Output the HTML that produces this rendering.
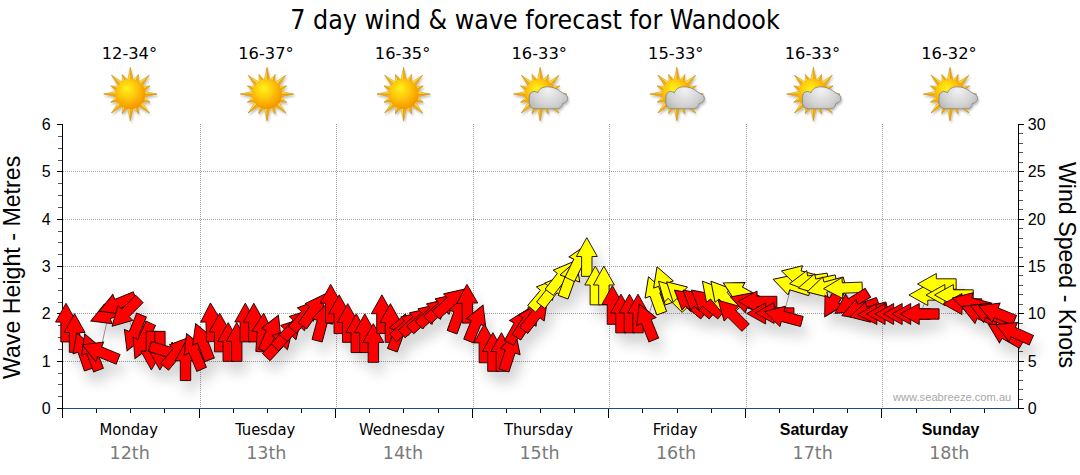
<!DOCTYPE html>
<html><head><meta charset="utf-8"><title>7 day wind &amp; wave forecast for Wandook</title>
<style>
html,body{margin:0;padding:0;background:#fff;}
body{width:1080px;height:475px;overflow:hidden;}
svg{display:block;}
.t{font-family:"DejaVu Sans Condensed","DejaVu Sans","Liberation Sans",sans-serif;}
.a{font-family:"Liberation Sans",Arial,sans-serif;}
.d{font-family:"DejaVu Sans","Liberation Sans",sans-serif;}
</style></head><body>
<svg width="1080" height="475" viewBox="0 0 1080 475">
<defs>
<radialGradient id="sunG" cx="0.42" cy="0.38" r="0.62" fx="0.38" fy="0.3">
<stop offset="0" stop-color="#fff21a"/><stop offset="0.45" stop-color="#ffcc0a"/><stop offset="1" stop-color="#f59500"/>
</radialGradient>
<linearGradient id="rayG" x1="0" y1="0" x2="1" y2="1">
<stop offset="0" stop-color="#ffd21a"/><stop offset="1" stop-color="#f29a10"/>
</linearGradient>
<linearGradient id="cloudG" x1="0" y1="0" x2="0" y2="1">
<stop offset="0" stop-color="#f2f2f2"/><stop offset="0.6" stop-color="#c8c8c8"/><stop offset="1" stop-color="#9a9a9a"/>
</linearGradient>
<filter id="shd" x="-10%" y="-20%" width="130%" height="160%">
<feGaussianBlur in="SourceAlpha" stdDeviation="6.5"/>
<feOffset dx="5" dy="11" result="b"/>
<feComponentTransfer><feFuncA type="linear" slope="0.17"/></feComponentTransfer>
<feMerge><feMergeNode/><feMergeNode in="SourceGraphic"/></feMerge>
</filter>
<filter id="ishd" x="-30%" y="-30%" width="160%" height="160%">
<feGaussianBlur in="SourceAlpha" stdDeviation="1.2"/>
<feOffset dx="1" dy="1.5" result="b"/>
<feComponentTransfer><feFuncA type="linear" slope="0.25"/></feComponentTransfer>
<feMerge><feMergeNode/><feMergeNode in="SourceGraphic"/></feMerge>
</filter>
<g id="rays">
<polygon fill="#f5ad20" points="3.00,-13.50 0.00,-26.60 0.00,-13.50"/>
<polygon fill="#ffdc30" points="0.00,-13.50 0.00,-26.60 -3.00,-13.50"/>
<polygon fill="#f5ad20" points="7.94,-11.32 8.11,-19.59 5.17,-12.47"/>
<polygon fill="#ffdc30" points="5.17,-12.47 8.11,-19.59 2.39,-13.62"/>
<polygon fill="#f5ad20" points="11.67,-7.42 18.81,-18.81 9.55,-9.55"/>
<polygon fill="#ffdc30" points="9.55,-9.55 18.81,-18.81 7.42,-11.67"/>
<polygon fill="#f5ad20" points="13.62,-2.39 19.59,-8.11 12.47,-5.17"/>
<polygon fill="#ffdc30" points="12.47,-5.17 19.59,-8.11 11.32,-7.94"/>
<polygon fill="#f5ad20" points="13.50,3.00 26.60,0.00 13.50,0.00"/>
<polygon fill="#ffdc30" points="13.50,0.00 26.60,0.00 13.50,-3.00"/>
<polygon fill="#f5ad20" points="11.32,7.94 19.59,8.11 12.47,5.17"/>
<polygon fill="#ffdc30" points="12.47,5.17 19.59,8.11 13.62,2.39"/>
<polygon fill="#f5ad20" points="7.42,11.67 18.81,18.81 9.55,9.55"/>
<polygon fill="#ffdc30" points="9.55,9.55 18.81,18.81 11.67,7.42"/>
<polygon fill="#ffdc30" points="2.39,13.62 8.11,19.59 5.17,12.47"/>
<polygon fill="#f5ad20" points="5.17,12.47 8.11,19.59 7.94,11.32"/>
<polygon fill="#ffdc30" points="-3.00,13.50 0.00,26.60 0.00,13.50"/>
<polygon fill="#f5ad20" points="0.00,13.50 0.00,26.60 3.00,13.50"/>
<polygon fill="#ffdc30" points="-7.94,11.32 -8.11,19.59 -5.17,12.47"/>
<polygon fill="#f5ad20" points="-5.17,12.47 -8.11,19.59 -2.39,13.62"/>
<polygon fill="#ffdc30" points="-11.67,7.42 -18.81,18.81 -9.55,9.55"/>
<polygon fill="#f5ad20" points="-9.55,9.55 -18.81,18.81 -7.42,11.67"/>
<polygon fill="#ffdc30" points="-13.62,2.39 -19.59,8.11 -12.47,5.17"/>
<polygon fill="#f5ad20" points="-12.47,5.17 -19.59,8.11 -11.32,7.94"/>
<polygon fill="#ffdc30" points="-13.50,-3.00 -26.60,0.00 -13.50,0.00"/>
<polygon fill="#f5ad20" points="-13.50,0.00 -26.60,0.00 -13.50,3.00"/>
<polygon fill="#ffdc30" points="-11.32,-7.94 -19.59,-8.11 -12.47,-5.17"/>
<polygon fill="#f5ad20" points="-12.47,-5.17 -19.59,-8.11 -13.62,-2.39"/>
<polygon fill="#ffdc30" points="-7.42,-11.67 -18.81,-18.81 -9.55,-9.55"/>
<polygon fill="#f5ad20" points="-9.55,-9.55 -18.81,-18.81 -11.67,-7.42"/>
<polygon fill="#f5ad20" points="-2.39,-13.62 -8.11,-19.59 -5.17,-12.47"/>
<polygon fill="#ffdc30" points="-5.17,-12.47 -8.11,-19.59 -7.94,-11.32"/>
</g>
<g id="sun"><use href="#rays" stroke="#c98a10" stroke-width="0.45" stroke-linejoin="round"/><circle r="15" fill="url(#sunG)"/></g>
<radialGradient id="cloudR" gradientUnits="userSpaceOnUse" cx="8" cy="-5" r="26" fx="8" fy="-4"><stop offset="0" stop-color="#f2f2f2"/><stop offset="0.6" stop-color="#d3d3d3"/><stop offset="1" stop-color="#b2b2b2"/></radialGradient>
<g id="cloud"><path d="M-4.8,14.7 C-8.5,14.7 -11,12 -11,8.5 L-11,3 C-11,0 -9,-2.6 -6.2,-2.6 C-4.5,-2.6 -3.2,-1.9 -2.4,-1.2 C-1.5,-5 2.5,-7.3 7.2,-7.3 C12,-7.3 16.5,-5.5 19,-3.5 C21,-2 22.5,-1.2 23.6,-0.5 C26,0.2 27.6,2.3 27.6,4.6 C27.6,7 25.5,9 22.5,9.4 C22,12.5 20,14.7 17,14.7 Z" fill="url(#cloudR)" stroke="#7d7d7d" stroke-width="0.8"/></g>
</defs>
<text class="t" x="535.0" y="29.4" font-size="26.55" text-anchor="middle" fill="#000">7 day wind &amp; wave forecast for Wandook</text>
<text class="d" x="129.4" y="59.3" font-size="16.3" text-anchor="middle" fill="#000">12-34°</text>
<use href="#sun" x="130.4" y="94.1" filter="url(#ishd)"/>
<text class="d" x="266.0" y="59.3" font-size="16.3" text-anchor="middle" fill="#000">16-37°</text>
<use href="#sun" x="267.0" y="94.1" filter="url(#ishd)"/>
<text class="d" x="402.6" y="59.3" font-size="16.3" text-anchor="middle" fill="#000">16-35°</text>
<use href="#sun" x="403.6" y="94.1" filter="url(#ishd)"/>
<text class="d" x="539.2" y="59.3" font-size="16.3" text-anchor="middle" fill="#000">16-33°</text>
<g filter="url(#ishd)"><use href="#sun" x="540.2" y="94.1"/><use href="#cloud" x="540.2" y="94.1"/></g>
<text class="d" x="675.8" y="59.3" font-size="16.3" text-anchor="middle" fill="#000">15-33°</text>
<g filter="url(#ishd)"><use href="#sun" x="676.8" y="94.1"/><use href="#cloud" x="676.8" y="94.1"/></g>
<text class="d" x="812.4" y="59.3" font-size="16.3" text-anchor="middle" fill="#000">16-33°</text>
<g filter="url(#ishd)"><use href="#sun" x="813.4" y="94.1"/><use href="#cloud" x="813.4" y="94.1"/></g>
<text class="d" x="949.0" y="59.3" font-size="16.3" text-anchor="middle" fill="#000">16-32°</text>
<g filter="url(#ishd)"><use href="#sun" x="950.0" y="94.1"/><use href="#cloud" x="950.0" y="94.1"/></g>
<g stroke="#a0a0a0" stroke-width="1" stroke-dasharray="1 1"><line x1="63" y1="361.5" x2="1018" y2="361.5"/><line x1="63" y1="313.5" x2="1018" y2="313.5"/><line x1="63" y1="266.5" x2="1018" y2="266.5"/><line x1="63" y1="219.5" x2="1018" y2="219.5"/><line x1="63" y1="171.5" x2="1018" y2="171.5"/><line x1="200.5" y1="124" x2="200.5" y2="408"/><line x1="336.5" y1="124" x2="336.5" y2="408"/><line x1="473.5" y1="124" x2="473.5" y2="408"/><line x1="609.5" y1="124" x2="609.5" y2="408"/><line x1="746.5" y1="124" x2="746.5" y2="408"/><line x1="882.5" y1="124" x2="882.5" y2="408"/></g>
<g stroke-width="1"><line x1="62.5" y1="124" x2="62.5" y2="418" stroke="#000"/><line x1="1018.5" y1="124" x2="1018.5" y2="409" stroke="#000"/><line x1="57" y1="408.5" x2="62" y2="408.5" stroke="#000"/><line x1="58" y1="396.5" x2="62" y2="396.5" stroke="#555"/><line x1="58" y1="384.5" x2="62" y2="384.5" stroke="#555"/><line x1="58" y1="373.5" x2="62" y2="373.5" stroke="#555"/><line x1="57" y1="361.5" x2="62" y2="361.5" stroke="#000"/><line x1="58" y1="349.5" x2="62" y2="349.5" stroke="#555"/><line x1="58" y1="337.5" x2="62" y2="337.5" stroke="#555"/><line x1="58" y1="325.5" x2="62" y2="325.5" stroke="#555"/><line x1="57" y1="313.5" x2="62" y2="313.5" stroke="#000"/><line x1="58" y1="302.5" x2="62" y2="302.5" stroke="#555"/><line x1="58" y1="290.5" x2="62" y2="290.5" stroke="#555"/><line x1="58" y1="278.5" x2="62" y2="278.5" stroke="#555"/><line x1="57" y1="266.5" x2="62" y2="266.5" stroke="#000"/><line x1="58" y1="254.5" x2="62" y2="254.5" stroke="#555"/><line x1="58" y1="242.5" x2="62" y2="242.5" stroke="#555"/><line x1="58" y1="231.5" x2="62" y2="231.5" stroke="#555"/><line x1="57" y1="219.5" x2="62" y2="219.5" stroke="#000"/><line x1="58" y1="207.5" x2="62" y2="207.5" stroke="#555"/><line x1="58" y1="195.5" x2="62" y2="195.5" stroke="#555"/><line x1="58" y1="183.5" x2="62" y2="183.5" stroke="#555"/><line x1="57" y1="171.5" x2="62" y2="171.5" stroke="#000"/><line x1="58" y1="160.5" x2="62" y2="160.5" stroke="#555"/><line x1="58" y1="148.5" x2="62" y2="148.5" stroke="#555"/><line x1="58" y1="136.5" x2="62" y2="136.5" stroke="#555"/><line x1="57" y1="124.5" x2="62" y2="124.5" stroke="#000"/><line x1="1019" y1="408.5" x2="1024" y2="408.5" stroke="#000"/><line x1="1019" y1="399.5" x2="1023" y2="399.5" stroke="#555"/><line x1="1019" y1="389.5" x2="1023" y2="389.5" stroke="#555"/><line x1="1019" y1="380.5" x2="1023" y2="380.5" stroke="#555"/><line x1="1019" y1="370.5" x2="1023" y2="370.5" stroke="#555"/><line x1="1019" y1="361.5" x2="1024" y2="361.5" stroke="#000"/><line x1="1019" y1="351.5" x2="1023" y2="351.5" stroke="#555"/><line x1="1019" y1="342.5" x2="1023" y2="342.5" stroke="#555"/><line x1="1019" y1="332.5" x2="1023" y2="332.5" stroke="#555"/><line x1="1019" y1="323.5" x2="1023" y2="323.5" stroke="#555"/><line x1="1019" y1="313.5" x2="1024" y2="313.5" stroke="#000"/><line x1="1019" y1="304.5" x2="1023" y2="304.5" stroke="#555"/><line x1="1019" y1="294.5" x2="1023" y2="294.5" stroke="#555"/><line x1="1019" y1="285.5" x2="1023" y2="285.5" stroke="#555"/><line x1="1019" y1="275.5" x2="1023" y2="275.5" stroke="#555"/><line x1="1019" y1="266.5" x2="1024" y2="266.5" stroke="#000"/><line x1="1019" y1="257.5" x2="1023" y2="257.5" stroke="#555"/><line x1="1019" y1="247.5" x2="1023" y2="247.5" stroke="#555"/><line x1="1019" y1="238.5" x2="1023" y2="238.5" stroke="#555"/><line x1="1019" y1="228.5" x2="1023" y2="228.5" stroke="#555"/><line x1="1019" y1="219.5" x2="1024" y2="219.5" stroke="#000"/><line x1="1019" y1="209.5" x2="1023" y2="209.5" stroke="#555"/><line x1="1019" y1="200.5" x2="1023" y2="200.5" stroke="#555"/><line x1="1019" y1="190.5" x2="1023" y2="190.5" stroke="#555"/><line x1="1019" y1="181.5" x2="1023" y2="181.5" stroke="#555"/><line x1="1019" y1="171.5" x2="1024" y2="171.5" stroke="#000"/><line x1="1019" y1="162.5" x2="1023" y2="162.5" stroke="#555"/><line x1="1019" y1="152.5" x2="1023" y2="152.5" stroke="#555"/><line x1="1019" y1="143.5" x2="1023" y2="143.5" stroke="#555"/><line x1="1019" y1="133.5" x2="1023" y2="133.5" stroke="#555"/><line x1="1019" y1="124.5" x2="1024" y2="124.5" stroke="#000"/><line x1="62.5" y1="409" x2="62.5" y2="418" stroke="#000"/><line x1="96.5" y1="409" x2="96.5" y2="413" stroke="#000"/><line x1="130.5" y1="409" x2="130.5" y2="413" stroke="#000"/><line x1="164.5" y1="409" x2="164.5" y2="413" stroke="#000"/><line x1="199.5" y1="409" x2="199.5" y2="418" stroke="#000"/><line x1="233.5" y1="409" x2="233.5" y2="413" stroke="#000"/><line x1="267.5" y1="409" x2="267.5" y2="413" stroke="#000"/><line x1="301.5" y1="409" x2="301.5" y2="413" stroke="#000"/><line x1="335.5" y1="409" x2="335.5" y2="418" stroke="#000"/><line x1="369.5" y1="409" x2="369.5" y2="413" stroke="#000"/><line x1="403.5" y1="409" x2="403.5" y2="413" stroke="#000"/><line x1="438.5" y1="409" x2="438.5" y2="413" stroke="#000"/><line x1="472.5" y1="409" x2="472.5" y2="418" stroke="#000"/><line x1="506.5" y1="409" x2="506.5" y2="413" stroke="#000"/><line x1="540.5" y1="409" x2="540.5" y2="413" stroke="#000"/><line x1="574.5" y1="409" x2="574.5" y2="413" stroke="#000"/><line x1="608.5" y1="409" x2="608.5" y2="418" stroke="#000"/><line x1="642.5" y1="409" x2="642.5" y2="413" stroke="#000"/><line x1="677.5" y1="409" x2="677.5" y2="413" stroke="#000"/><line x1="711.5" y1="409" x2="711.5" y2="413" stroke="#000"/><line x1="745.5" y1="409" x2="745.5" y2="418" stroke="#000"/><line x1="779.5" y1="409" x2="779.5" y2="413" stroke="#000"/><line x1="813.5" y1="409" x2="813.5" y2="413" stroke="#000"/><line x1="847.5" y1="409" x2="847.5" y2="413" stroke="#000"/><line x1="881.5" y1="409" x2="881.5" y2="418" stroke="#000"/><line x1="916.5" y1="409" x2="916.5" y2="413" stroke="#000"/><line x1="950.5" y1="409" x2="950.5" y2="413" stroke="#000"/><line x1="984.5" y1="409" x2="984.5" y2="413" stroke="#000"/><line x1="63" y1="408.5" x2="1018" y2="408.5" stroke="#1a5080"/></g>
<text class="a" x="50.6" y="413.8" font-size="16" text-anchor="end" fill="#000">0</text>
<text class="a" x="50.6" y="366.5" font-size="16" text-anchor="end" fill="#000">1</text>
<text class="a" x="50.6" y="319.1" font-size="16" text-anchor="end" fill="#000">2</text>
<text class="a" x="50.6" y="271.8" font-size="16" text-anchor="end" fill="#000">3</text>
<text class="a" x="50.6" y="224.5" font-size="16" text-anchor="end" fill="#000">4</text>
<text class="a" x="50.6" y="177.2" font-size="16" text-anchor="end" fill="#000">5</text>
<text class="a" x="50.6" y="129.8" font-size="16" text-anchor="end" fill="#000">6</text>
<text class="a" x="1027.8" y="413.8" font-size="16" text-anchor="start" fill="#000">0</text>
<text class="a" x="1027.8" y="366.5" font-size="16" text-anchor="start" fill="#000">5</text>
<text class="a" x="1027.8" y="319.1" font-size="16" text-anchor="start" fill="#000">10</text>
<text class="a" x="1027.8" y="271.8" font-size="16" text-anchor="start" fill="#000">15</text>
<text class="a" x="1027.8" y="224.5" font-size="16" text-anchor="start" fill="#000">20</text>
<text class="a" x="1027.8" y="177.1" font-size="16" text-anchor="start" fill="#000">25</text>
<text class="a" x="1027.8" y="129.8" font-size="16" text-anchor="start" fill="#000">30</text>
<text class="a" font-size="23.2" fill="#000" text-anchor="middle" transform="translate(20.4,267.4) rotate(-90)">Wave Height - Metres</text>
<text class="a" font-size="23.2" fill="#000" text-anchor="middle" transform="translate(1059,265) rotate(90)">Wind Speed - Knots</text>
<text class="t" x="128.7" y="434.6" font-size="16.5" text-anchor="middle" fill="#000">Monday</text>
<text class="d" x="129.7" y="458.7" font-size="17.5" text-anchor="middle" fill="#7a7a7a">12th</text>
<text class="t" x="265.3" y="434.6" font-size="16.5" text-anchor="middle" fill="#000">Tuesday</text>
<text class="d" x="266.3" y="458.7" font-size="17.5" text-anchor="middle" fill="#7a7a7a">13th</text>
<text class="t" x="401.9" y="434.6" font-size="16.5" text-anchor="middle" fill="#000">Wednesday</text>
<text class="d" x="402.9" y="458.7" font-size="17.5" text-anchor="middle" fill="#7a7a7a">14th</text>
<text class="t" x="538.5" y="434.6" font-size="16.5" text-anchor="middle" fill="#000">Thursday</text>
<text class="d" x="539.5" y="458.7" font-size="17.5" text-anchor="middle" fill="#7a7a7a">15th</text>
<text class="t" x="675.1" y="434.6" font-size="16.5" text-anchor="middle" fill="#000">Friday</text>
<text class="d" x="676.1" y="458.7" font-size="17.5" text-anchor="middle" fill="#7a7a7a">16th</text>
<text class="a" x="814.0" y="434.8" font-size="16" font-weight="bold" text-anchor="middle" fill="#000">Saturday</text>
<text class="d" x="812.7" y="458.7" font-size="17.5" text-anchor="middle" fill="#7a7a7a">17th</text>
<text class="a" x="950.6" y="434.8" font-size="16" font-weight="bold" text-anchor="middle" fill="#000">Sunday</text>
<text class="d" x="949.3" y="458.7" font-size="17.5" text-anchor="middle" fill="#7a7a7a">18th</text>
<text class="a" x="893" y="400.6" font-size="11.15" fill="#a8a8a8">www.seabreeze.com.au</text>
<g filter="url(#shd)">
<polyline fill="none" stroke="#8c8c8c" stroke-width="1" points="66.0,322.6 74.5,333.0 83.1,351.0 91.6,352.0 100.2,352.0 108.7,313.8 117.2,304.0 125.8,312.6 134.3,333.0 142.8,341.0 151.4,350.7 159.9,350.7 168.4,352.0 177.0,352.0 185.5,361.2 194.1,351.5 202.6,341.7 211.1,322.3 219.7,332.5 228.2,342.0 236.8,342.0 245.3,322.5 253.8,322.6 262.4,332.5 270.9,333.0 279.4,343.0 288.0,333.0 296.5,324.0 305.0,315.0 313.6,310.0 322.1,322.0 330.7,303.7 339.2,314.2 347.7,323.0 356.3,333.2 364.8,333.2 373.3,343.0 381.9,314.2 390.4,323.0 399.0,332.0 407.5,325.0 416.0,321.0 424.6,317.0 433.1,312.0 441.6,307.0 450.2,302.0 458.7,314.0 467.3,303.7 475.8,323.0 484.3,343.4 492.9,352.0 501.4,352.0 509.9,352.0 518.5,326.0 527.0,321.0 535.6,315.0 544.1,294.0 552.6,290.0 561.2,277.0 569.7,279.0 578.2,262.0 586.8,257.0 595.3,285.5 603.9,285.5 612.4,305.0 620.9,313.5 629.5,313.5 638.0,313.5 646.5,322.0 655.1,295.0 663.6,285.0 672.2,295.0 680.7,295.0 689.2,302.5 697.8,302.5 706.3,302.5 714.9,296.0 723.4,296.0 731.9,314.0 740.5,292.0 749.0,303.0 757.5,301.5 766.1,313.5 774.6,313.0 783.1,316.5 791.7,285.0 800.2,276.0 808.8,281.0 817.3,284.0 825.8,287.0 834.4,300.0 842.9,288.0 851.4,303.0 860.0,309.0 868.5,312.0 877.1,314.0 885.6,314.0 894.1,314.0 902.7,314.0 911.2,314.0 919.8,314.0 928.3,295.0 936.8,284.0 945.4,295.0 953.9,295.0 962.4,304.0 971.0,303.0 979.5,314.0 988.0,313.0 996.6,313.0 1005.1,334.0 1013.7,332.3"/>
<polygon points="19.35,0 0.5,-10.5 0.5,-5.2 -19.35,-5.2 -19.35,5.2 0.5,5.2 0.5,10.5" fill="#ff0000" stroke="#1a0000" stroke-width="0.9" stroke-linejoin="miter" transform="translate(66.00,322.60) rotate(-90.0)"/>
<polygon points="19.35,0 0.5,-10.5 0.5,-5.2 -19.35,-5.2 -19.35,5.2 0.5,5.2 0.5,10.5" fill="#ff0000" stroke="#1a0000" stroke-width="0.9" stroke-linejoin="miter" transform="translate(74.54,333.00) rotate(-90.0)"/>
<polygon points="19.35,0 0.5,-10.5 0.5,-5.2 -19.35,-5.2 -19.35,5.2 0.5,5.2 0.5,10.5" fill="#ff0000" stroke="#1a0000" stroke-width="0.9" stroke-linejoin="miter" transform="translate(83.08,351.00) rotate(-109.0)"/>
<polygon points="19.35,0 0.5,-10.5 0.5,-5.2 -19.35,-5.2 -19.35,5.2 0.5,5.2 0.5,10.5" fill="#ff0000" stroke="#1a0000" stroke-width="0.9" stroke-linejoin="miter" transform="translate(91.61,352.00) rotate(-111.0)"/>
<polygon points="19.35,0 0.5,-10.5 0.5,-5.2 -19.35,-5.2 -19.35,5.2 0.5,5.2 0.5,10.5" fill="#ff0000" stroke="#1a0000" stroke-width="0.9" stroke-linejoin="miter" transform="translate(100.15,352.00) rotate(-158.0)"/>
<polygon points="19.35,0 0.5,-10.5 0.5,-5.2 -19.35,-5.2 -19.35,5.2 0.5,5.2 0.5,10.5" fill="#ff0000" stroke="#1a0000" stroke-width="0.9" stroke-linejoin="miter" transform="translate(108.69,313.80) rotate(158.0)"/>
<polygon points="19.35,0 0.5,-10.5 0.5,-5.2 -19.35,-5.2 -19.35,5.2 0.5,5.2 0.5,10.5" fill="#ff0000" stroke="#1a0000" stroke-width="0.9" stroke-linejoin="miter" transform="translate(117.22,304.00) rotate(158.0)"/>
<polygon points="19.35,0 0.5,-10.5 0.5,-5.2 -19.35,-5.2 -19.35,5.2 0.5,5.2 0.5,10.5" fill="#ff0000" stroke="#1a0000" stroke-width="0.9" stroke-linejoin="miter" transform="translate(125.76,312.60) rotate(135.0)"/>
<polygon points="19.35,0 0.5,-10.5 0.5,-5.2 -19.35,-5.2 -19.35,5.2 0.5,5.2 0.5,10.5" fill="#ff0000" stroke="#1a0000" stroke-width="0.9" stroke-linejoin="miter" transform="translate(134.30,333.00) rotate(112.0)"/>
<polygon points="19.35,0 0.5,-10.5 0.5,-5.2 -19.35,-5.2 -19.35,5.2 0.5,5.2 0.5,10.5" fill="#ff0000" stroke="#1a0000" stroke-width="0.9" stroke-linejoin="miter" transform="translate(142.84,341.00) rotate(114.0)"/>
<polygon points="19.35,0 0.5,-10.5 0.5,-5.2 -19.35,-5.2 -19.35,5.2 0.5,5.2 0.5,10.5" fill="#ff0000" stroke="#1a0000" stroke-width="0.9" stroke-linejoin="miter" transform="translate(151.38,350.70) rotate(90.0)"/>
<polygon points="19.35,0 0.5,-10.5 0.5,-5.2 -19.35,-5.2 -19.35,5.2 0.5,5.2 0.5,10.5" fill="#ff0000" stroke="#1a0000" stroke-width="0.9" stroke-linejoin="miter" transform="translate(159.91,350.70) rotate(90.0)"/>
<polygon points="19.35,0 0.5,-10.5 0.5,-5.2 -19.35,-5.2 -19.35,5.2 0.5,5.2 0.5,10.5" fill="#ff0000" stroke="#1a0000" stroke-width="0.9" stroke-linejoin="miter" transform="translate(168.45,352.00) rotate(17.0)"/>
<polygon points="19.35,0 0.5,-10.5 0.5,-5.2 -19.35,-5.2 -19.35,5.2 0.5,5.2 0.5,10.5" fill="#ff0000" stroke="#1a0000" stroke-width="0.9" stroke-linejoin="miter" transform="translate(176.99,352.00) rotate(-50.0)"/>
<polygon points="19.35,0 0.5,-10.5 0.5,-5.2 -19.35,-5.2 -19.35,5.2 0.5,5.2 0.5,10.5" fill="#ff0000" stroke="#1a0000" stroke-width="0.9" stroke-linejoin="miter" transform="translate(185.52,361.20) rotate(-90.0)"/>
<polygon points="19.35,0 0.5,-10.5 0.5,-5.2 -19.35,-5.2 -19.35,5.2 0.5,5.2 0.5,10.5" fill="#ff0000" stroke="#1a0000" stroke-width="0.9" stroke-linejoin="miter" transform="translate(194.06,351.50) rotate(-113.0)"/>
<polygon points="19.35,0 0.5,-10.5 0.5,-5.2 -19.35,-5.2 -19.35,5.2 0.5,5.2 0.5,10.5" fill="#ff0000" stroke="#1a0000" stroke-width="0.9" stroke-linejoin="miter" transform="translate(202.60,341.70) rotate(-111.0)"/>
<polygon points="19.35,0 0.5,-10.5 0.5,-5.2 -19.35,-5.2 -19.35,5.2 0.5,5.2 0.5,10.5" fill="#ff0000" stroke="#1a0000" stroke-width="0.9" stroke-linejoin="miter" transform="translate(211.14,322.30) rotate(-92.0)"/>
<polygon points="19.35,0 0.5,-10.5 0.5,-5.2 -19.35,-5.2 -19.35,5.2 0.5,5.2 0.5,10.5" fill="#ff0000" stroke="#1a0000" stroke-width="0.9" stroke-linejoin="miter" transform="translate(219.67,332.50) rotate(-90.0)"/>
<polygon points="19.35,0 0.5,-10.5 0.5,-5.2 -19.35,-5.2 -19.35,5.2 0.5,5.2 0.5,10.5" fill="#ff0000" stroke="#1a0000" stroke-width="0.9" stroke-linejoin="miter" transform="translate(228.21,342.00) rotate(-90.0)"/>
<polygon points="19.35,0 0.5,-10.5 0.5,-5.2 -19.35,-5.2 -19.35,5.2 0.5,5.2 0.5,10.5" fill="#ff0000" stroke="#1a0000" stroke-width="0.9" stroke-linejoin="miter" transform="translate(236.75,342.00) rotate(-90.0)"/>
<polygon points="19.35,0 0.5,-10.5 0.5,-5.2 -19.35,-5.2 -19.35,5.2 0.5,5.2 0.5,10.5" fill="#ff0000" stroke="#1a0000" stroke-width="0.9" stroke-linejoin="miter" transform="translate(245.29,322.50) rotate(-90.0)"/>
<polygon points="19.35,0 0.5,-10.5 0.5,-5.2 -19.35,-5.2 -19.35,5.2 0.5,5.2 0.5,10.5" fill="#ff0000" stroke="#1a0000" stroke-width="0.9" stroke-linejoin="miter" transform="translate(253.82,322.60) rotate(-90.0)"/>
<polygon points="19.35,0 0.5,-10.5 0.5,-5.2 -19.35,-5.2 -19.35,5.2 0.5,5.2 0.5,10.5" fill="#ff0000" stroke="#1a0000" stroke-width="0.9" stroke-linejoin="miter" transform="translate(262.36,332.50) rotate(-86.0)"/>
<polygon points="19.35,0 0.5,-10.5 0.5,-5.2 -19.35,-5.2 -19.35,5.2 0.5,5.2 0.5,10.5" fill="#ff0000" stroke="#1a0000" stroke-width="0.9" stroke-linejoin="miter" transform="translate(270.90,333.00) rotate(-67.0)"/>
<polygon points="19.35,0 0.5,-10.5 0.5,-5.2 -19.35,-5.2 -19.35,5.2 0.5,5.2 0.5,10.5" fill="#ff0000" stroke="#1a0000" stroke-width="0.9" stroke-linejoin="miter" transform="translate(279.44,343.00) rotate(-47.0)"/>
<polygon points="19.35,0 0.5,-10.5 0.5,-5.2 -19.35,-5.2 -19.35,5.2 0.5,5.2 0.5,10.5" fill="#ff0000" stroke="#1a0000" stroke-width="0.9" stroke-linejoin="miter" transform="translate(287.98,333.00) rotate(-47.0)"/>
<polygon points="19.35,0 0.5,-10.5 0.5,-5.2 -19.35,-5.2 -19.35,5.2 0.5,5.2 0.5,10.5" fill="#ff0000" stroke="#1a0000" stroke-width="0.9" stroke-linejoin="miter" transform="translate(296.51,324.00) rotate(-47.0)"/>
<polygon points="19.35,0 0.5,-10.5 0.5,-5.2 -19.35,-5.2 -19.35,5.2 0.5,5.2 0.5,10.5" fill="#ff0000" stroke="#1a0000" stroke-width="0.9" stroke-linejoin="miter" transform="translate(305.05,315.00) rotate(-50.0)"/>
<polygon points="19.35,0 0.5,-10.5 0.5,-5.2 -19.35,-5.2 -19.35,5.2 0.5,5.2 0.5,10.5" fill="#ff0000" stroke="#1a0000" stroke-width="0.9" stroke-linejoin="miter" transform="translate(313.59,310.00) rotate(-55.0)"/>
<polygon points="19.35,0 0.5,-10.5 0.5,-5.2 -19.35,-5.2 -19.35,5.2 0.5,5.2 0.5,10.5" fill="#ff0000" stroke="#1a0000" stroke-width="0.9" stroke-linejoin="miter" transform="translate(322.12,322.00) rotate(-75.0)"/>
<polygon points="19.35,0 0.5,-10.5 0.5,-5.2 -19.35,-5.2 -19.35,5.2 0.5,5.2 0.5,10.5" fill="#ff0000" stroke="#1a0000" stroke-width="0.9" stroke-linejoin="miter" transform="translate(330.66,303.70) rotate(-90.0)"/>
<polygon points="19.35,0 0.5,-10.5 0.5,-5.2 -19.35,-5.2 -19.35,5.2 0.5,5.2 0.5,10.5" fill="#ff0000" stroke="#1a0000" stroke-width="0.9" stroke-linejoin="miter" transform="translate(339.20,314.20) rotate(-90.0)"/>
<polygon points="19.35,0 0.5,-10.5 0.5,-5.2 -19.35,-5.2 -19.35,5.2 0.5,5.2 0.5,10.5" fill="#ff0000" stroke="#1a0000" stroke-width="0.9" stroke-linejoin="miter" transform="translate(347.74,323.00) rotate(-90.0)"/>
<polygon points="19.35,0 0.5,-10.5 0.5,-5.2 -19.35,-5.2 -19.35,5.2 0.5,5.2 0.5,10.5" fill="#ff0000" stroke="#1a0000" stroke-width="0.9" stroke-linejoin="miter" transform="translate(356.27,333.20) rotate(-90.0)"/>
<polygon points="19.35,0 0.5,-10.5 0.5,-5.2 -19.35,-5.2 -19.35,5.2 0.5,5.2 0.5,10.5" fill="#ff0000" stroke="#1a0000" stroke-width="0.9" stroke-linejoin="miter" transform="translate(364.81,333.20) rotate(-90.0)"/>
<polygon points="19.35,0 0.5,-10.5 0.5,-5.2 -19.35,-5.2 -19.35,5.2 0.5,5.2 0.5,10.5" fill="#ff0000" stroke="#1a0000" stroke-width="0.9" stroke-linejoin="miter" transform="translate(373.35,343.00) rotate(-90.0)"/>
<polygon points="19.35,0 0.5,-10.5 0.5,-5.2 -19.35,-5.2 -19.35,5.2 0.5,5.2 0.5,10.5" fill="#ff0000" stroke="#1a0000" stroke-width="0.9" stroke-linejoin="miter" transform="translate(381.89,314.20) rotate(-90.0)"/>
<polygon points="19.35,0 0.5,-10.5 0.5,-5.2 -19.35,-5.2 -19.35,5.2 0.5,5.2 0.5,10.5" fill="#ff0000" stroke="#1a0000" stroke-width="0.9" stroke-linejoin="miter" transform="translate(390.43,323.00) rotate(-90.0)"/>
<polygon points="19.35,0 0.5,-10.5 0.5,-5.2 -19.35,-5.2 -19.35,5.2 0.5,5.2 0.5,10.5" fill="#ff0000" stroke="#1a0000" stroke-width="0.9" stroke-linejoin="miter" transform="translate(398.96,332.00) rotate(-70.0)"/>
<polygon points="19.35,0 0.5,-10.5 0.5,-5.2 -19.35,-5.2 -19.35,5.2 0.5,5.2 0.5,10.5" fill="#ff0000" stroke="#1a0000" stroke-width="0.9" stroke-linejoin="miter" transform="translate(407.50,325.00) rotate(-42.0)"/>
<polygon points="19.35,0 0.5,-10.5 0.5,-5.2 -19.35,-5.2 -19.35,5.2 0.5,5.2 0.5,10.5" fill="#ff0000" stroke="#1a0000" stroke-width="0.9" stroke-linejoin="miter" transform="translate(416.04,321.00) rotate(-42.0)"/>
<polygon points="19.35,0 0.5,-10.5 0.5,-5.2 -19.35,-5.2 -19.35,5.2 0.5,5.2 0.5,10.5" fill="#ff0000" stroke="#1a0000" stroke-width="0.9" stroke-linejoin="miter" transform="translate(424.57,317.00) rotate(-42.0)"/>
<polygon points="19.35,0 0.5,-10.5 0.5,-5.2 -19.35,-5.2 -19.35,5.2 0.5,5.2 0.5,10.5" fill="#ff0000" stroke="#1a0000" stroke-width="0.9" stroke-linejoin="miter" transform="translate(433.11,312.00) rotate(-42.0)"/>
<polygon points="19.35,0 0.5,-10.5 0.5,-5.2 -19.35,-5.2 -19.35,5.2 0.5,5.2 0.5,10.5" fill="#ff0000" stroke="#1a0000" stroke-width="0.9" stroke-linejoin="miter" transform="translate(441.65,307.00) rotate(-42.0)"/>
<polygon points="19.35,0 0.5,-10.5 0.5,-5.2 -19.35,-5.2 -19.35,5.2 0.5,5.2 0.5,10.5" fill="#ff0000" stroke="#1a0000" stroke-width="0.9" stroke-linejoin="miter" transform="translate(450.19,302.00) rotate(-42.0)"/>
<polygon points="19.35,0 0.5,-10.5 0.5,-5.2 -19.35,-5.2 -19.35,5.2 0.5,5.2 0.5,10.5" fill="#ff0000" stroke="#1a0000" stroke-width="0.9" stroke-linejoin="miter" transform="translate(458.72,314.00) rotate(-70.0)"/>
<polygon points="19.35,0 0.5,-10.5 0.5,-5.2 -19.35,-5.2 -19.35,5.2 0.5,5.2 0.5,10.5" fill="#ff0000" stroke="#1a0000" stroke-width="0.9" stroke-linejoin="miter" transform="translate(467.26,303.70) rotate(-91.0)"/>
<polygon points="19.35,0 0.5,-10.5 0.5,-5.2 -19.35,-5.2 -19.35,5.2 0.5,5.2 0.5,10.5" fill="#ff0000" stroke="#1a0000" stroke-width="0.9" stroke-linejoin="miter" transform="translate(475.80,323.00) rotate(-68.0)"/>
<polygon points="19.35,0 0.5,-10.5 0.5,-5.2 -19.35,-5.2 -19.35,5.2 0.5,5.2 0.5,10.5" fill="#ff0000" stroke="#1a0000" stroke-width="0.9" stroke-linejoin="miter" transform="translate(484.34,343.40) rotate(-90.0)"/>
<polygon points="19.35,0 0.5,-10.5 0.5,-5.2 -19.35,-5.2 -19.35,5.2 0.5,5.2 0.5,10.5" fill="#ff0000" stroke="#1a0000" stroke-width="0.9" stroke-linejoin="miter" transform="translate(492.88,352.00) rotate(-90.0)"/>
<polygon points="19.35,0 0.5,-10.5 0.5,-5.2 -19.35,-5.2 -19.35,5.2 0.5,5.2 0.5,10.5" fill="#ff0000" stroke="#1a0000" stroke-width="0.9" stroke-linejoin="miter" transform="translate(501.41,352.00) rotate(-90.0)"/>
<polygon points="19.35,0 0.5,-10.5 0.5,-5.2 -19.35,-5.2 -19.35,5.2 0.5,5.2 0.5,10.5" fill="#ff0000" stroke="#1a0000" stroke-width="0.9" stroke-linejoin="miter" transform="translate(509.95,352.00) rotate(-72.0)"/>
<polygon points="19.35,0 0.5,-10.5 0.5,-5.2 -19.35,-5.2 -19.35,5.2 0.5,5.2 0.5,10.5" fill="#ff0000" stroke="#1a0000" stroke-width="0.9" stroke-linejoin="miter" transform="translate(518.49,326.00) rotate(-61.0)"/>
<polygon points="19.35,0 0.5,-10.5 0.5,-5.2 -19.35,-5.2 -19.35,5.2 0.5,5.2 0.5,10.5" fill="#ff0000" stroke="#1a0000" stroke-width="0.9" stroke-linejoin="miter" transform="translate(527.02,321.00) rotate(-57.0)"/>
<polygon points="19.35,0 0.5,-10.5 0.5,-5.2 -19.35,-5.2 -19.35,5.2 0.5,5.2 0.5,10.5" fill="#ff0000" stroke="#1a0000" stroke-width="0.9" stroke-linejoin="miter" transform="translate(535.56,315.00) rotate(-52.0)"/>
<polygon points="19.35,0 0.5,-10.5 0.5,-5.2 -19.35,-5.2 -19.35,5.2 0.5,5.2 0.5,10.5" fill="#ffff00" stroke="#1a0000" stroke-width="0.9" stroke-linejoin="miter" transform="translate(544.10,294.00) rotate(-50.0)"/>
<polygon points="19.35,0 0.5,-10.5 0.5,-5.2 -19.35,-5.2 -19.35,5.2 0.5,5.2 0.5,10.5" fill="#ffff00" stroke="#1a0000" stroke-width="0.9" stroke-linejoin="miter" transform="translate(552.64,290.00) rotate(-52.0)"/>
<polygon points="19.35,0 0.5,-10.5 0.5,-5.2 -19.35,-5.2 -19.35,5.2 0.5,5.2 0.5,10.5" fill="#ffff00" stroke="#1a0000" stroke-width="0.9" stroke-linejoin="miter" transform="translate(561.17,277.00) rotate(-52.0)"/>
<polygon points="19.35,0 0.5,-10.5 0.5,-5.2 -19.35,-5.2 -19.35,5.2 0.5,5.2 0.5,10.5" fill="#ffff00" stroke="#1a0000" stroke-width="0.9" stroke-linejoin="miter" transform="translate(569.71,279.00) rotate(-70.0)"/>
<polygon points="19.35,0 0.5,-10.5 0.5,-5.2 -19.35,-5.2 -19.35,5.2 0.5,5.2 0.5,10.5" fill="#ffff00" stroke="#1a0000" stroke-width="0.9" stroke-linejoin="miter" transform="translate(578.25,262.00) rotate(-64.0)"/>
<polygon points="19.35,0 0.5,-10.5 0.5,-5.2 -19.35,-5.2 -19.35,5.2 0.5,5.2 0.5,10.5" fill="#ffff00" stroke="#1a0000" stroke-width="0.9" stroke-linejoin="miter" transform="translate(586.79,257.00) rotate(-90.0)"/>
<polygon points="19.35,0 0.5,-10.5 0.5,-5.2 -19.35,-5.2 -19.35,5.2 0.5,5.2 0.5,10.5" fill="#ffff00" stroke="#1a0000" stroke-width="0.9" stroke-linejoin="miter" transform="translate(595.32,285.50) rotate(-90.0)"/>
<polygon points="19.35,0 0.5,-10.5 0.5,-5.2 -19.35,-5.2 -19.35,5.2 0.5,5.2 0.5,10.5" fill="#ffff00" stroke="#1a0000" stroke-width="0.9" stroke-linejoin="miter" transform="translate(603.86,285.50) rotate(-90.0)"/>
<polygon points="19.35,0 0.5,-10.5 0.5,-5.2 -19.35,-5.2 -19.35,5.2 0.5,5.2 0.5,10.5" fill="#ff0000" stroke="#1a0000" stroke-width="0.9" stroke-linejoin="miter" transform="translate(612.40,305.00) rotate(-90.0)"/>
<polygon points="19.35,0 0.5,-10.5 0.5,-5.2 -19.35,-5.2 -19.35,5.2 0.5,5.2 0.5,10.5" fill="#ff0000" stroke="#1a0000" stroke-width="0.9" stroke-linejoin="miter" transform="translate(620.94,313.50) rotate(-90.0)"/>
<polygon points="19.35,0 0.5,-10.5 0.5,-5.2 -19.35,-5.2 -19.35,5.2 0.5,5.2 0.5,10.5" fill="#ff0000" stroke="#1a0000" stroke-width="0.9" stroke-linejoin="miter" transform="translate(629.48,313.50) rotate(-90.0)"/>
<polygon points="19.35,0 0.5,-10.5 0.5,-5.2 -19.35,-5.2 -19.35,5.2 0.5,5.2 0.5,10.5" fill="#ff0000" stroke="#1a0000" stroke-width="0.9" stroke-linejoin="miter" transform="translate(638.01,313.50) rotate(-90.0)"/>
<polygon points="19.35,0 0.5,-10.5 0.5,-5.2 -19.35,-5.2 -19.35,5.2 0.5,5.2 0.5,10.5" fill="#ff0000" stroke="#1a0000" stroke-width="0.9" stroke-linejoin="miter" transform="translate(646.55,322.00) rotate(-112.0)"/>
<polygon points="19.35,0 0.5,-10.5 0.5,-5.2 -19.35,-5.2 -19.35,5.2 0.5,5.2 0.5,10.5" fill="#ffff00" stroke="#1a0000" stroke-width="0.9" stroke-linejoin="miter" transform="translate(655.09,295.00) rotate(-110.0)"/>
<polygon points="19.35,0 0.5,-10.5 0.5,-5.2 -19.35,-5.2 -19.35,5.2 0.5,5.2 0.5,10.5" fill="#ffff00" stroke="#1a0000" stroke-width="0.9" stroke-linejoin="miter" transform="translate(663.62,285.00) rotate(-110.0)"/>
<polygon points="19.35,0 0.5,-10.5 0.5,-5.2 -19.35,-5.2 -19.35,5.2 0.5,5.2 0.5,10.5" fill="#ffff00" stroke="#1a0000" stroke-width="0.9" stroke-linejoin="miter" transform="translate(672.16,295.00) rotate(-135.0)"/>
<polygon points="19.35,0 0.5,-10.5 0.5,-5.2 -19.35,-5.2 -19.35,5.2 0.5,5.2 0.5,10.5" fill="#ffff00" stroke="#1a0000" stroke-width="0.9" stroke-linejoin="miter" transform="translate(680.70,295.00) rotate(-137.0)"/>
<polygon points="19.35,0 0.5,-10.5 0.5,-5.2 -19.35,-5.2 -19.35,5.2 0.5,5.2 0.5,10.5" fill="#ff0000" stroke="#1a0000" stroke-width="0.9" stroke-linejoin="miter" transform="translate(689.24,302.50) rotate(-140.0)"/>
<polygon points="19.35,0 0.5,-10.5 0.5,-5.2 -19.35,-5.2 -19.35,5.2 0.5,5.2 0.5,10.5" fill="#ff0000" stroke="#1a0000" stroke-width="0.9" stroke-linejoin="miter" transform="translate(697.77,302.50) rotate(-140.0)"/>
<polygon points="19.35,0 0.5,-10.5 0.5,-5.2 -19.35,-5.2 -19.35,5.2 0.5,5.2 0.5,10.5" fill="#ff0000" stroke="#1a0000" stroke-width="0.9" stroke-linejoin="miter" transform="translate(706.31,302.50) rotate(-140.0)"/>
<polygon points="19.35,0 0.5,-10.5 0.5,-5.2 -19.35,-5.2 -19.35,5.2 0.5,5.2 0.5,10.5" fill="#ffff00" stroke="#1a0000" stroke-width="0.9" stroke-linejoin="miter" transform="translate(714.85,296.00) rotate(-130.0)"/>
<polygon points="19.35,0 0.5,-10.5 0.5,-5.2 -19.35,-5.2 -19.35,5.2 0.5,5.2 0.5,10.5" fill="#ffff00" stroke="#1a0000" stroke-width="0.9" stroke-linejoin="miter" transform="translate(723.39,296.00) rotate(-130.0)"/>
<polygon points="19.35,0 0.5,-10.5 0.5,-5.2 -19.35,-5.2 -19.35,5.2 0.5,5.2 0.5,10.5" fill="#ff0000" stroke="#1a0000" stroke-width="0.9" stroke-linejoin="miter" transform="translate(731.92,314.00) rotate(-135.0)"/>
<polygon points="19.35,0 0.5,-10.5 0.5,-5.2 -19.35,-5.2 -19.35,5.2 0.5,5.2 0.5,10.5" fill="#ffff00" stroke="#1a0000" stroke-width="0.9" stroke-linejoin="miter" transform="translate(740.46,292.00) rotate(-152.0)"/>
<polygon points="19.35,0 0.5,-10.5 0.5,-5.2 -19.35,-5.2 -19.35,5.2 0.5,5.2 0.5,10.5" fill="#ff0000" stroke="#1a0000" stroke-width="0.9" stroke-linejoin="miter" transform="translate(749.00,303.00) rotate(-162.0)"/>
<polygon points="19.35,0 0.5,-10.5 0.5,-5.2 -19.35,-5.2 -19.35,5.2 0.5,5.2 0.5,10.5" fill="#ff0000" stroke="#1a0000" stroke-width="0.9" stroke-linejoin="miter" transform="translate(757.54,301.50) rotate(180.0)"/>
<polygon points="19.35,0 0.5,-10.5 0.5,-5.2 -19.35,-5.2 -19.35,5.2 0.5,5.2 0.5,10.5" fill="#ff0000" stroke="#1a0000" stroke-width="0.9" stroke-linejoin="miter" transform="translate(766.07,313.50) rotate(180.0)"/>
<polygon points="19.35,0 0.5,-10.5 0.5,-5.2 -19.35,-5.2 -19.35,5.2 0.5,5.2 0.5,10.5" fill="#ff0000" stroke="#1a0000" stroke-width="0.9" stroke-linejoin="miter" transform="translate(774.61,313.00) rotate(180.0)"/>
<polygon points="19.35,0 0.5,-10.5 0.5,-5.2 -19.35,-5.2 -19.35,5.2 0.5,5.2 0.5,10.5" fill="#ff0000" stroke="#1a0000" stroke-width="0.9" stroke-linejoin="miter" transform="translate(783.15,316.50) rotate(-165.0)"/>
<polygon points="19.35,0 0.5,-10.5 0.5,-5.2 -19.35,-5.2 -19.35,5.2 0.5,5.2 0.5,10.5" fill="#ffff00" stroke="#1a0000" stroke-width="0.9" stroke-linejoin="miter" transform="translate(791.69,285.00) rotate(-163.0)"/>
<polygon points="19.35,0 0.5,-10.5 0.5,-5.2 -19.35,-5.2 -19.35,5.2 0.5,5.2 0.5,10.5" fill="#ffff00" stroke="#1a0000" stroke-width="0.9" stroke-linejoin="miter" transform="translate(800.23,276.00) rotate(-165.0)"/>
<polygon points="19.35,0 0.5,-10.5 0.5,-5.2 -19.35,-5.2 -19.35,5.2 0.5,5.2 0.5,10.5" fill="#ffff00" stroke="#1a0000" stroke-width="0.9" stroke-linejoin="miter" transform="translate(808.76,281.00) rotate(172.0)"/>
<polygon points="19.35,0 0.5,-10.5 0.5,-5.2 -19.35,-5.2 -19.35,5.2 0.5,5.2 0.5,10.5" fill="#ffff00" stroke="#1a0000" stroke-width="0.9" stroke-linejoin="miter" transform="translate(817.30,284.00) rotate(168.0)"/>
<polygon points="19.35,0 0.5,-10.5 0.5,-5.2 -19.35,-5.2 -19.35,5.2 0.5,5.2 0.5,10.5" fill="#ffff00" stroke="#1a0000" stroke-width="0.9" stroke-linejoin="miter" transform="translate(825.84,287.00) rotate(165.0)"/>
<polygon points="19.35,0 0.5,-10.5 0.5,-5.2 -19.35,-5.2 -19.35,5.2 0.5,5.2 0.5,10.5" fill="#ff0000" stroke="#1a0000" stroke-width="0.9" stroke-linejoin="miter" transform="translate(834.38,300.00) rotate(120.0)"/>
<polygon points="19.35,0 0.5,-10.5 0.5,-5.2 -19.35,-5.2 -19.35,5.2 0.5,5.2 0.5,10.5" fill="#ffff00" stroke="#1a0000" stroke-width="0.9" stroke-linejoin="miter" transform="translate(842.91,288.00) rotate(178.0)"/>
<polygon points="19.35,0 0.5,-10.5 0.5,-5.2 -19.35,-5.2 -19.35,5.2 0.5,5.2 0.5,10.5" fill="#ff0000" stroke="#1a0000" stroke-width="0.9" stroke-linejoin="miter" transform="translate(851.45,303.00) rotate(148.0)"/>
<polygon points="19.35,0 0.5,-10.5 0.5,-5.2 -19.35,-5.2 -19.35,5.2 0.5,5.2 0.5,10.5" fill="#ff0000" stroke="#1a0000" stroke-width="0.9" stroke-linejoin="miter" transform="translate(859.99,309.00) rotate(160.0)"/>
<polygon points="19.35,0 0.5,-10.5 0.5,-5.2 -19.35,-5.2 -19.35,5.2 0.5,5.2 0.5,10.5" fill="#ff0000" stroke="#1a0000" stroke-width="0.9" stroke-linejoin="miter" transform="translate(868.52,312.00) rotate(165.0)"/>
<polygon points="19.35,0 0.5,-10.5 0.5,-5.2 -19.35,-5.2 -19.35,5.2 0.5,5.2 0.5,10.5" fill="#ff0000" stroke="#1a0000" stroke-width="0.9" stroke-linejoin="miter" transform="translate(877.06,314.00) rotate(178.0)"/>
<polygon points="19.35,0 0.5,-10.5 0.5,-5.2 -19.35,-5.2 -19.35,5.2 0.5,5.2 0.5,10.5" fill="#ff0000" stroke="#1a0000" stroke-width="0.9" stroke-linejoin="miter" transform="translate(885.60,314.00) rotate(180.0)"/>
<polygon points="19.35,0 0.5,-10.5 0.5,-5.2 -19.35,-5.2 -19.35,5.2 0.5,5.2 0.5,10.5" fill="#ff0000" stroke="#1a0000" stroke-width="0.9" stroke-linejoin="miter" transform="translate(894.14,314.00) rotate(180.0)"/>
<polygon points="19.35,0 0.5,-10.5 0.5,-5.2 -19.35,-5.2 -19.35,5.2 0.5,5.2 0.5,10.5" fill="#ff0000" stroke="#1a0000" stroke-width="0.9" stroke-linejoin="miter" transform="translate(902.67,314.00) rotate(180.0)"/>
<polygon points="19.35,0 0.5,-10.5 0.5,-5.2 -19.35,-5.2 -19.35,5.2 0.5,5.2 0.5,10.5" fill="#ff0000" stroke="#1a0000" stroke-width="0.9" stroke-linejoin="miter" transform="translate(911.21,314.00) rotate(180.0)"/>
<polygon points="19.35,0 0.5,-10.5 0.5,-5.2 -19.35,-5.2 -19.35,5.2 0.5,5.2 0.5,10.5" fill="#ff0000" stroke="#1a0000" stroke-width="0.9" stroke-linejoin="miter" transform="translate(919.75,314.00) rotate(180.0)"/>
<polygon points="19.35,0 0.5,-10.5 0.5,-5.2 -19.35,-5.2 -19.35,5.2 0.5,5.2 0.5,10.5" fill="#ffff00" stroke="#1a0000" stroke-width="0.9" stroke-linejoin="miter" transform="translate(928.29,295.00) rotate(180.0)"/>
<polygon points="19.35,0 0.5,-10.5 0.5,-5.2 -19.35,-5.2 -19.35,5.2 0.5,5.2 0.5,10.5" fill="#ffff00" stroke="#1a0000" stroke-width="0.9" stroke-linejoin="miter" transform="translate(936.82,284.00) rotate(180.0)"/>
<polygon points="19.35,0 0.5,-10.5 0.5,-5.2 -19.35,-5.2 -19.35,5.2 0.5,5.2 0.5,10.5" fill="#ffff00" stroke="#1a0000" stroke-width="0.9" stroke-linejoin="miter" transform="translate(945.36,295.00) rotate(180.0)"/>
<polygon points="19.35,0 0.5,-10.5 0.5,-5.2 -19.35,-5.2 -19.35,5.2 0.5,5.2 0.5,10.5" fill="#ffff00" stroke="#1a0000" stroke-width="0.9" stroke-linejoin="miter" transform="translate(953.90,295.00) rotate(180.0)"/>
<polygon points="19.35,0 0.5,-10.5 0.5,-5.2 -19.35,-5.2 -19.35,5.2 0.5,5.2 0.5,10.5" fill="#ff0000" stroke="#1a0000" stroke-width="0.9" stroke-linejoin="miter" transform="translate(962.44,304.00) rotate(180.0)"/>
<polygon points="19.35,0 0.5,-10.5 0.5,-5.2 -19.35,-5.2 -19.35,5.2 0.5,5.2 0.5,10.5" fill="#ff0000" stroke="#1a0000" stroke-width="0.9" stroke-linejoin="miter" transform="translate(970.97,303.00) rotate(-165.0)"/>
<polygon points="19.35,0 0.5,-10.5 0.5,-5.2 -19.35,-5.2 -19.35,5.2 0.5,5.2 0.5,10.5" fill="#ff0000" stroke="#1a0000" stroke-width="0.9" stroke-linejoin="miter" transform="translate(979.51,314.00) rotate(-157.0)"/>
<polygon points="19.35,0 0.5,-10.5 0.5,-5.2 -19.35,-5.2 -19.35,5.2 0.5,5.2 0.5,10.5" fill="#ff0000" stroke="#1a0000" stroke-width="0.9" stroke-linejoin="miter" transform="translate(988.05,313.00) rotate(-157.0)"/>
<polygon points="19.35,0 0.5,-10.5 0.5,-5.2 -19.35,-5.2 -19.35,5.2 0.5,5.2 0.5,10.5" fill="#ff0000" stroke="#1a0000" stroke-width="0.9" stroke-linejoin="miter" transform="translate(996.59,313.00) rotate(-158.0)"/>
<polygon points="19.35,0 0.5,-10.5 0.5,-5.2 -19.35,-5.2 -19.35,5.2 0.5,5.2 0.5,10.5" fill="#ff0000" stroke="#1a0000" stroke-width="0.9" stroke-linejoin="miter" transform="translate(1005.12,334.00) rotate(-150.0)"/>
<polygon points="19.35,0 0.5,-10.5 0.5,-5.2 -19.35,-5.2 -19.35,5.2 0.5,5.2 0.5,10.5" fill="#ff0000" stroke="#1a0000" stroke-width="0.9" stroke-linejoin="miter" transform="translate(1013.66,332.30) rotate(-156.0)"/>
</g>
</svg>
</body></html>
